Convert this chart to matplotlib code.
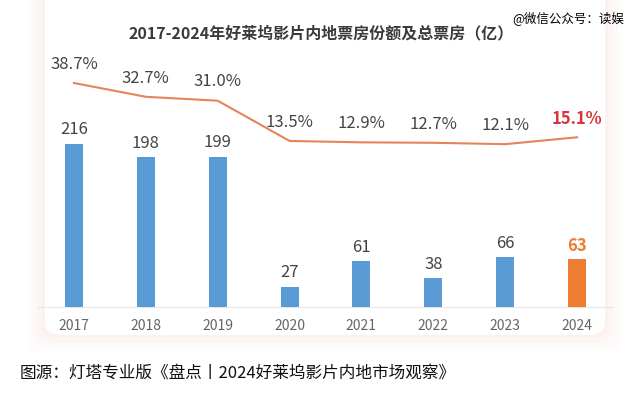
import matplotlib.pyplot as plt
from matplotlib.patches import FancyBboxPatch

plt.rcParams['font.family'] = ['Noto Sans CJK SC', 'DejaVu Sans']

years = ['2017', '2018', '2019', '2020', '2021', '2022', '2023', '2024']
box_office = [216, 198, 199, 27, 61, 38, 66, 63]  # 亿
share = [38.7, 32.7, 31.0, 13.5, 12.9, 12.7, 12.1, 15.1]  # %

blue = '#5B9BD5'
orange = '#ED7D31'
line_c = '#E3845A'
red = '#D7353B'

fig = plt.figure(figsize=(6.4, 3.95), dpi=100)
W, H = 640, 395

# soft card shadow behind the chart
for i, a in enumerate([0.06, 0.08, 0.10, 0.14]):
    pad = 18 - i * 5
    fig.patches.append(FancyBboxPatch(
        ((45 - pad) / W, (H - 335 - pad) / H), (560 + 2 * pad) / W, (400 + pad) / H,
        boxstyle='round,pad=0,rounding_size=0.03', transform=fig.transFigure,
        facecolor='#F6D9CF', edgecolor='none', alpha=a, zorder=-3))
fig.patches.append(FancyBboxPatch(
    (45 / W, (H - 335) / H), 560 / W, 400 / H,
    boxstyle='round,pad=0,rounding_size=0.03', transform=fig.transFigure,
    facecolor='white', edgecolor='none', zorder=-2))

ax = fig.add_axes([38 / W, 88 / H, 575 / W, 247 / H])
ax.patch.set_alpha(0)
x = range(len(years))
colors = [blue] * 7 + [orange]
ax.bar(x, box_office, width=0.25, color=colors, zorder=3)
ax.set_xlim(-0.5, 7.5)
ax.set_ylim(0, 327)
for s in ['top', 'right', 'left']:
    ax.spines[s].set_visible(False)
ax.spines['bottom'].set_color('#E6E6E6')
ax.set_yticks([])
ax.set_xticks(list(x))
ax.set_xticklabels(years, fontsize=10, color='#666666')
ax.tick_params(axis='x', length=0, pad=9)

for i, v in enumerate(box_office):
    last = i == len(box_office) - 1
    ax.annotate(str(v), (i, v), xytext=(0, 10), textcoords='offset points',
                ha='center', va='center', fontsize=12,
                color=orange if last else '#444444',
                fontweight='bold' if last else 'normal')

ax2 = ax.twinx()
ax2.set_ylim(-58.7, 48.7)
ax2.axis('off')
ax2.plot(list(x), share, color=line_c, lw=1.5, zorder=4)
for i, v in enumerate(share):
    last = i == len(share) - 1
    ax2.annotate(f'{v:.1f}%', (i, v), xytext=(0, 13.5), textcoords='offset points',
                 ha='center', va='center', fontsize=12,
                 color=red if last else '#444444',
                 fontweight='bold' if last else 'normal')

fig.text(321 / W, 1 - 33 / H, '2017-2024年好莱坞影片内地票房份额及总票房（亿）',
         ha='center', va='center', fontsize=11.5, color='#3A3A3A', fontweight='bold')
fig.text(624 / W, 1 - 18 / H, '@微信公众号：读娱', ha='right', va='center',
         fontsize=9, color='black')
fig.text(20 / W, 1 - 373 / H, '图源：灯塔专业版《盘点丨2024好莱坞影片内地市场观察》',
         ha='left', va='center', fontsize=12, color='#111111')

fig.savefig('out.png', dpi=100)
